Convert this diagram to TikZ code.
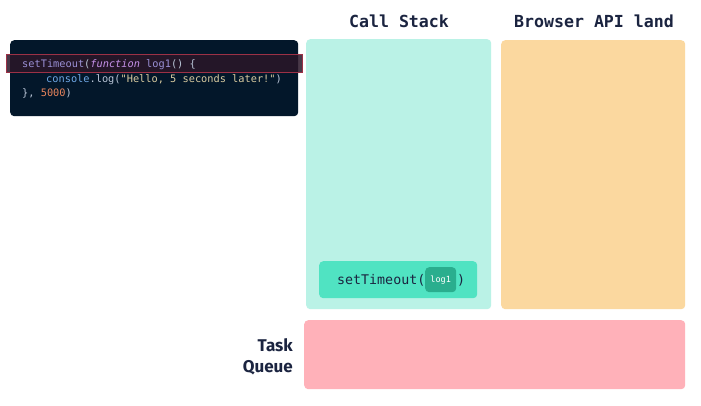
\documentclass[tikz,border=0pt]{standalone}
\usepackage{fontspec}
\setmainfont{Fira Sans}
\setmonofont{DejaVu Sans Mono}
\usetikzlibrary{positioning}
\definecolor{ink}{HTML}{1B2440}
\definecolor{codebg}{HTML}{03172A}
\definecolor{hlfill}{HTML}{2A1628}
\definecolor{hlline}{HTML}{B83A52}
\definecolor{stackbg}{HTML}{BAF2E6}
\definecolor{apibg}{HTML}{FBD89F}
\definecolor{queuebg}{HTML}{FFB1B9}
\definecolor{framebg}{HTML}{50E3C2}
\definecolor{cbbg}{HTML}{2AAE8E}
\definecolor{cfn}{HTML}{9A90D6}
\definecolor{ckw}{HTML}{C792EA}
\definecolor{cobj}{HTML}{6FA8E6}
\definecolor{cpun}{HTML}{B8C4D6}
\definecolor{cstr}{HTML}{D9CBA0}
\definecolor{cnum}{HTML}{E8845C}
\tikzset{bx/.append style={rounded corners=4pt,inner sep=0pt,anchor=north west}}
\tikzset{ttl/.append style={font=\ttfamily\bfseries\fontsize{16.6}{18}\selectfont,text=ink,inner sep=0pt}}
\tikzset{cd/.append style={font=\ttfamily\fontsize{10.3}{12}\selectfont,inner sep=0pt,anchor=base west}}

\begin{document}
\begin{tikzpicture}[x=1pt,y=-1pt]
                % canvas
                \useasboundingbox[fill=white] (0,0) rectangle (701,406);
                % code panel
                \node[bx,fill=codebg,minimum width=288pt,minimum height=76pt] (code) at (10,40) {};
                \node[bx,rounded corners=0pt,fill=hlfill,fill opacity=0.85,draw=hlline!85!black,line width=0.7pt,minimum width=296pt,minimum height=18pt] (hl) at (6,54) {};
                \node[cd] (l1) at (22,67.5) {\color{cfn}setTimeout\color{cpun}(\color{ckw}\itshape function\upshape{} \color{cfn}log1\color{cpun}() \{};
                \node[cd] (l2) at (46,82.5) {\color{cobj}console\color{cpun}.log(\color{cstr}"Hello, 5 seconds later!"\color{cpun})};
                \node[cd] (l3) at (22,97) {\color{cpun}\}, \color{cnum}5000\color{cpun})};
                % areas
                \node[bx,fill=stackbg,minimum width=185pt,minimum height=270pt] (stack) at (306,39) {};
                \node[bx,fill=apibg,minimum width=184pt,minimum height=269pt] (api) at (501,40) {};
                \node[bx,fill=queuebg,minimum width=381pt,minimum height=69pt] (queue) at (304,320) {};
                \node[ttl] (t1) at (399,21) {Call Stack};
                \node[ttl] (t2) at (594,21) {Browser API land};
                \node[font=\bfseries\fontsize{17}{21}\selectfont,text=ink,align=right,anchor=east,inner sep=0pt] (t3) at (293,357) {Task\\Queue};
                % stack frame
                \node[bx,fill=framebg,minimum width=158pt,minimum height=37pt] (frame) at (319,261) {};
                \node[font=\ttfamily\fontsize{13.3}{15}\selectfont,text=ink,anchor=base west,inner sep=0pt] (st) at (337,284) {setTimeout(};
                \node[bx,fill=cbbg,minimum width=31pt,minimum height=25pt] (cb) at (425,267) {};
                \node[font=\ttfamily\fontsize{8.5}{10}\selectfont,text=white,inner sep=0pt] (cbt) at (cb.center) {log1};
                \node[font=\ttfamily\fontsize{13.3}{15}\selectfont,text=ink,anchor=base west,inner sep=0pt] (cl) at (457,284) {)};
            \end{tikzpicture}
\end{document}
